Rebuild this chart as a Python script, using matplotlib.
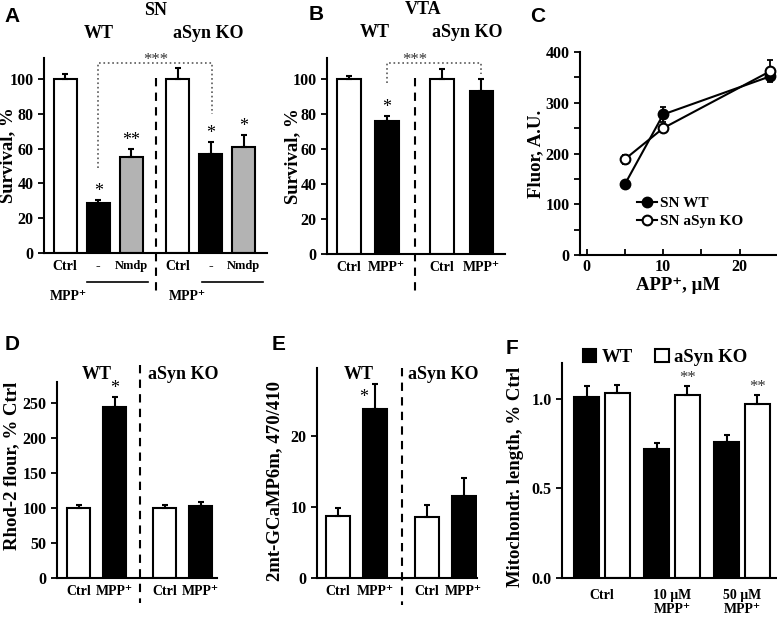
import numpy as np
import matplotlib
matplotlib.use('Agg')
import matplotlib.pyplot as plt
import matplotlib.transforms as mtransforms

plt.rcParams['font.family'] = ['Liberation Serif', 'DejaVu Serif']
plt.rcParams['font.weight'] = 'bold'
plt.rcParams['axes.labelweight'] = 'bold'
plt.rcParams['axes.linewidth'] = 1.5

W, H = 777, 617

# ---- data ----
# A: SN survival
a_labels = ['Ctrl', '-', 'Nmdp', 'Ctrl', '-', 'Nmdp']
a_vals = [100, 29, 55, 100, 57, 61]
a_err = [3, 1.5, 5, 6, 6.5, 7]
a_colors = ['white', 'black', '#b3b3b3', 'white', 'black', '#b3b3b3']
a_stars = ['', '*', '**', '', '*', '*']
a_pos = [0, 1, 2, 3.4, 4.4, 5.4]

# B: VTA survival
b_labels = ['Ctrl', 'MPP⁺', 'Ctrl', 'MPP⁺']
b_vals = [100, 76, 100, 93]
b_err = [2, 3, 6, 7]
b_stars = ['', '*', '', '']
b_pos = [0, 1, 2.45, 3.5]

# C: fluorescence vs APP+
c_conc = [5, 10, 24]
c_wt = [140, 277, 352]
c_wt_err = [5, 15, 8]
c_ko = [189, 250, 362]
c_ko_err = [9, 6, 22]

# D: Rhod-2
de_labels = ['Ctrl', 'MPP⁺', 'Ctrl', 'MPP⁺']
d_vals = [100, 245, 100, 103]
d_err = [5, 13, 4, 5]
d_stars = ['', '*', '', '']

# E: 2mt-GCaMP6m
e_vals = [8.7, 23.8, 8.6, 11.5]
e_err = [1.2, 3.4, 1.7, 2.6]
de_pos = [0, 1, 2.4, 3.4]
de_colors = ['white', 'black', 'white', 'black']

# F: mitochondrial length
f_groups = ['Ctrl', '10 μM\nMPP⁺', '50 μM\nMPP⁺']
f_wt = [1.01, 0.72, 0.76]
f_wt_err = [0.06, 0.035, 0.04]
f_ko = [1.03, 1.02, 0.97]
f_ko_err = [0.045, 0.05, 0.05]
f_ko_stars = ['', '**', '**']

fig = plt.figure(figsize=(W / 100, H / 100), dpi=100)


def px_axes(left, top, right, bottom):
    return fig.add_axes([left / W, 1 - bottom / H, (right - left) / W, (bottom - top) / H])


def style(ax):
    ax.spines['top'].set_visible(False)
    ax.spines['right'].set_visible(False)
    ax.tick_params(axis='y', direction='out', length=4, width=1.3, labelsize=11.5)
    ax.tick_params(axis='x', length=0, pad=5, labelsize=10)


def bars(ax, pos, vals, err, colors, width, stars=None, starsize=13):
    ax.bar(pos, vals, width, color=colors, edgecolor='black', linewidth=1.5, zorder=2)
    ax.errorbar(pos, vals, yerr=[np.zeros(len(vals)), err], fmt='none', ecolor='black',
                elinewidth=1.5, capsize=2.5, capthick=1.5, zorder=3)
    if stars:
        for p, v, e, s in zip(pos, vals, err, stars):
            if s:
                ax.text(p, v + e, s, ha='center', va='bottom', fontsize=starsize,
                        fontweight='normal', zorder=4)


def vdash(ax, x, y0, y1):
    tr = mtransforms.blended_transform_factory(ax.transData, ax.transAxes)
    ax.plot([x, x], [y0, y1], transform=tr, ls=(0, (4, 3)), color='black', lw=1.5,
            clip_on=False)


def htext(ax, x, y, s, size=13):
    tr = mtransforms.blended_transform_factory(ax.transData, ax.transAxes)
    ax.text(x, y, s, transform=tr, ha='center', va='center', fontsize=size, clip_on=False)


# ---- A ----
ax = px_axes(44, 58, 267, 253)
style(ax)
bars(ax, a_pos, a_vals, a_err, a_colors, 0.7, a_stars)
ax.set_xlim(-0.64, 6.1)
ax.set_ylim(0, 112)
ax.set_yticks(range(0, 101, 20))
ax.set_xticks(a_pos)
ax.set_xticklabels(a_labels)
for t, lab in zip(ax.get_xticklabels(), a_labels):
    if lab == 'Nmdp':
        t.set_fontsize(9)
ax.set_ylabel('Survival, %', fontsize=13.5)
ax.yaxis.set_label_coords(-0.125, 0.5)
vdash(ax, 2.73, 0.897, -0.205)
ax.plot([1, 1, 4.45, 4.45], [49, 109, 109, 80], ls=':', color='0.35', lw=1.2, clip_on=False)
ax.text(2.73, 106.5, '***', ha='center', va='bottom', fontsize=12, fontweight='normal',
        color='0.2')
tr = mtransforms.blended_transform_factory(ax.transData, ax.transAxes)
ax.plot([0.67, 2.5], [-0.149, -0.149], transform=tr, color='black', lw=1.2, clip_on=False)
ax.plot([4.15, 5.97], [-0.149, -0.149], transform=tr, color='black', lw=1.2, clip_on=False)
htext(ax, 0.1, -0.225, 'MPP⁺', 10)
htext(ax, 3.7, -0.225, 'MPP⁺', 10)
htext(ax, 2.73, 1.246, 'SN')
htext(ax, 1.0, 1.128, 'WT')
htext(ax, 4.33, 1.128, 'aSyn KO')

# ---- B ----
ax = px_axes(327, 58, 505, 254)
style(ax)
bars(ax, b_pos, b_vals, b_err, de_colors, 0.63, b_stars)
ax.set_xlim(-0.57, 4.12)
ax.set_ylim(0, 112)
ax.set_yticks(range(0, 101, 20))
ax.set_xticks(b_pos)
ax.set_xticklabels(b_labels)
ax.set_ylabel('Survival, %', fontsize=13.5)
ax.yaxis.set_label_coords(-0.145, 0.5)
vdash(ax, 1.75, 0.897, -0.2)
ax.plot([1, 1, 3.5, 3.5], [98, 109, 109, 103], ls=':', color='0.35', lw=1.2, clip_on=False)
ax.text(1.75, 106.5, '***', ha='center', va='bottom', fontsize=12, fontweight='normal',
        color='0.2')
htext(ax, 1.96, 1.246, 'VTA')
htext(ax, 0.7, 1.128, 'WT')
htext(ax, 3.12, 1.128, 'aSyn KO')

# ---- C ----
ax = px_axes(580, 52, 777, 255)
ax.spines['top'].set_visible(False)
ax.spines['right'].set_visible(False)
ax.errorbar(c_conc, c_wt, yerr=c_wt_err, fmt='none', ecolor='black', elinewidth=1.3,
            capsize=2.5, capthick=1.3)
ax.errorbar(c_conc, c_ko, yerr=c_ko_err, fmt='none', ecolor='black', elinewidth=1.3,
            capsize=2.5, capthick=1.3)
ax.plot(c_conc, c_wt, '-o', color='black', lw=1.5, ms=7, mfc='black', mec='black',
        mew=1.5, label='SN WT', clip_on=False, zorder=3)
ax.plot(c_conc, c_ko, '-o', color='black', lw=1.5, ms=7, mfc='white', mec='black',
        mew=1.5, label='SN aSyn KO', clip_on=False, zorder=3)
ax.set_xlim(-0.9, 24.9)
ax.set_ylim(0, 400)
ax.set_xticks([0, 10, 20])
ax.set_xticks([5, 15], minor=True)
ax.set_yticks(range(0, 401, 100))
ax.set_yticks(range(50, 400, 100), minor=True)
ax.tick_params(axis='y', which='both', direction='out', length=4, width=1.3, labelsize=11.5)
ax.tick_params(axis='x', which='both', direction='in', length=4, width=1.3, labelsize=11.5,
               pad=3)
ax.set_xlabel('APP⁺, μM', fontsize=13.5, labelpad=1)
ax.set_ylabel('Fluor, A.U.', fontsize=13.5)
ax.yaxis.set_label_coords(-0.18, 0.5)
ax.legend(loc='center left', bbox_to_anchor=(0.25, 0.21), frameon=False, fontsize=11,
          handlelength=1.3, handletextpad=0.2, labelspacing=0.3, borderpad=0)

# ---- D ----
ax = px_axes(57, 382, 217, 578)
style(ax)
bars(ax, de_pos, d_vals, d_err, de_colors, 0.64, d_stars)
ax.set_xlim(-0.6, 3.85)
ax.set_ylim(0, 280)
ax.set_yticks(range(0, 251, 50))
ax.set_xticks(de_pos)
ax.set_xticklabels(de_labels)
ax.set_ylabel('Rhod-2 flour, % Ctrl', fontsize=13.5)
ax.yaxis.set_label_coords(-0.23, 0.57)
vdash(ax, 1.72, 1.087, -0.128)
htext(ax, 0.5, 1.036, 'WT')
htext(ax, 2.9, 1.036, 'aSyn KO')

# ---- E ----
ax = px_axes(317, 368, 477, 578)
style(ax)
bars(ax, de_pos, e_vals, e_err, de_colors, 0.65)
ax.text(0.7, 25.4, '*', ha='center', va='center', fontsize=13, fontweight='normal')
ax.set_xlim(-0.57, 3.76)
ax.set_ylim(0, 29.5)
ax.set_yticks([0, 10, 20])
ax.set_xticks(de_pos)
ax.set_xticklabels(de_labels)
ax.set_ylabel('2mt-GCaMP6m, 470/410', fontsize=13.5)
ax.yaxis.set_label_coords(-0.21, 0.46)
vdash(ax, 1.73, 1.0, -0.13)
htext(ax, 0.55, 0.967, 'WT')
htext(ax, 2.84, 0.967, 'aSyn KO')

# ---- F ----
ax = px_axes(562, 363, 777, 578)
style(ax)
gx = np.arange(len(f_groups))
bw = 0.36
ax.bar(gx - 0.22, f_wt, bw, color='black', edgecolor='black', linewidth=1.5, label='WT', zorder=2)
ax.bar(gx + 0.22, f_ko, bw, color='white', edgecolor='black', linewidth=1.5, label='aSyn KO',
       zorder=2)
ax.errorbar(gx - 0.22, f_wt, yerr=[np.zeros(3), f_wt_err], fmt='none', ecolor='black',
            elinewidth=1.5, capsize=2.5, capthick=1.5, zorder=3)
ax.errorbar(gx + 0.22, f_ko, yerr=[np.zeros(3), f_ko_err], fmt='none', ecolor='black',
            elinewidth=1.5, capsize=2.5, capthick=1.5, zorder=3)
for x, v, e, s in zip(gx + 0.22, f_ko, f_ko_err, f_ko_stars):
    if s:
        ax.text(x, v + e, s, ha='center', va='bottom', fontsize=12, fontweight='normal',
                color='0.2')
ax.set_xlim(-0.57, 2.5)
ax.set_ylim(0, 1.2)
ax.set_yticks([0, 0.5, 1.0])
ax.set_yticklabels(['0.0', '0.5', '1.0'])
ax.set_xticks(gx)
ax.set_xticklabels(f_groups, linespacing=1.1)
ax.tick_params(axis='x', pad=8)
ax.set_ylabel('Mitochondr. length, % Ctrl', fontsize=13.5)
ax.yaxis.set_label_coords(-0.175, 0.47)
ax.legend(loc='center', bbox_to_anchor=(0.48, 1.025), ncol=2, frameon=False, fontsize=13.5,
          handlelength=0.7, handleheight=0.7, handletextpad=0.3, columnspacing=1.2,
          borderpad=0)

# panel letters
for letter, px, py in [('A', 12, 16), ('B', 316, 14), ('C', 538, 16),
                       ('D', 12, 344), ('E', 279, 344), ('F', 512, 349)]:
    fig.text(px / W, 1 - py / H, letter, family=['Liberation Sans', 'DejaVu Sans'],
             fontsize=15, fontweight='bold', ha='center', va='center')

fig.savefig('out.png', dpi=100)
